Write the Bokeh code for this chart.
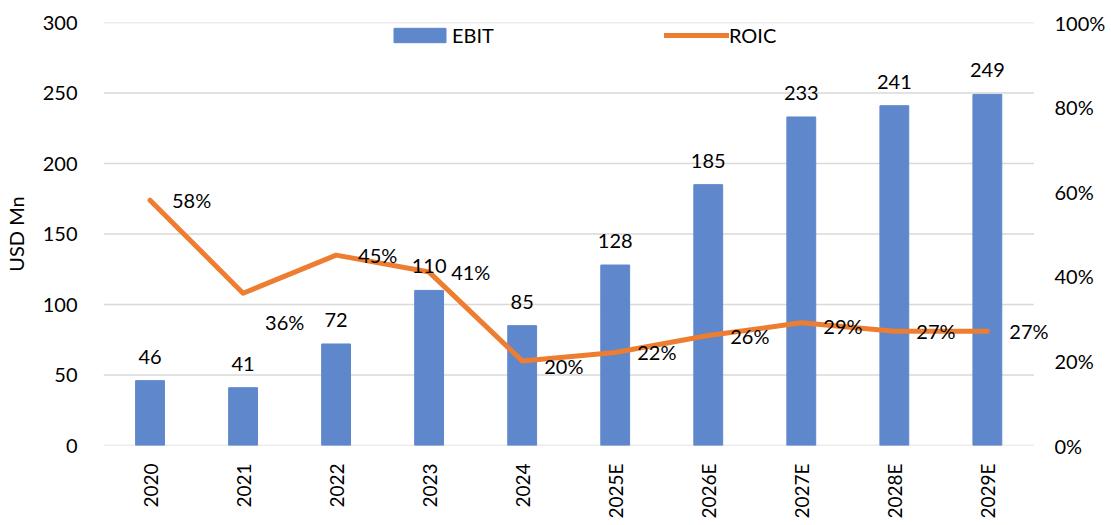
import math
from bokeh.plotting import figure
from bokeh.models import (Range1d, LinearAxis, ColumnDataSource, Legend, LegendItem,
                          PrintfTickFormatter, FixedTicker, Label)
from bokeh.core.properties import value
from bokeh.embed import file_html
from bokeh.resources import INLINE

years = ["2020", "2021", "2022", "2023", "2024", "2025E", "2026E", "2027E", "2028E", "2029E"]
ebit = [46, 41, 72, 110, 85, 128, 185, 233, 241, 249]
roic = [58, 36, 45, 41, 20, 22, 26, 29, 27, 27]
left_ticks = [0, 50, 100, 150, 200, 250, 300]
right_ticks = [0, 20, 40, 60, 80, 100]

# label vertical nudges (screen px, up positive) for the ROIC data labels
roic_label_dy = [0, -29, 0, 0, -5, 0, 0, -3, 0, 0]

FONT = "Lato"
BAR = "#5f87cc"
ORANGE = "#ED7D31"
GRID = "#d9d9d9"

n = len(years)
xpos = list(range(n))
EXTRA = 0.2  # extra room right of the category area so the last label is not clipped

src = ColumnDataSource(dict(
    x=xpos, year=years, ebit=ebit, roic=roic,
    ebit_lbl=[str(v) for v in ebit],
))

p = figure(x_range=Range1d(-0.5, n - 0.5 + EXTRA), y_range=Range1d(0, 300),
           frame_width=round(930 * (n + EXTRA) / n), frame_height=423,
           output_backend="svg", toolbar_location=None,
           min_border_left=92, min_border_right=20, min_border_top=22, min_border_bottom=5)
p.extra_y_ranges = {"pct": Range1d(0, 100)}
p.outline_line_color = None
p.background_fill_color = "white"

# horizontal gridlines limited to the category area
p.xgrid.grid_line_color = None
p.ygrid.grid_line_color = None
p.segment(x0=[-0.5] * len(left_ticks), x1=[n - 0.5] * len(left_ticks),
          y0=left_ticks, y1=left_ticks, line_color=GRID, line_width=1.5)

bars = p.vbar(x="x", top="ebit", width=0.31, source=src, fill_color=BAR, line_color=BAR)
line = p.line(x="x", y="roic", source=src, y_range_name="pct", line_width=5,
              line_color=ORANGE, line_join="round", line_cap="round")

p.text(x="x", y="ebit", text="ebit_lbl", source=src, text_align="center",
       text_baseline="bottom", y_offset=-17, text_font=value(FONT), text_font_size="20px",
       text_color="black")

for xi, r, dy in zip(xpos, roic, roic_label_dy):
    p.add_layout(Label(x=xi, y=r, text=f"{r}%", y_range_name="pct",
                       text_align="left", text_baseline="middle", x_offset=22, y_offset=dy,
                       text_font=FONT, text_font_size="20px", text_color="black"))

# left axis
ya = p.yaxis[0]
ya.ticker = FixedTicker(ticks=left_ticks)
ya.axis_label = "USD Mn"
ya.axis_label_text_font = FONT
ya.axis_label_text_font_size = "20px"
ya.axis_label_text_font_style = "normal"
ya.axis_label_text_color = "black"
ya.axis_label_standoff = 12
ya.axis_line_color = None
ya.major_tick_line_color = None
ya.minor_tick_line_color = None
ya.major_label_text_font = FONT
ya.major_label_text_font_size = "20px"
ya.major_label_text_color = "black"
ya.major_label_standoff = 20

# right axis
ra = LinearAxis(y_range_name="pct", ticker=FixedTicker(ticks=right_ticks),
                formatter=PrintfTickFormatter(format="%d%%"))
ra.axis_line_color = None
ra.major_tick_line_color = None
ra.minor_tick_line_color = None
ra.major_tick_in = 0
ra.major_tick_out = 0
ra.major_label_text_font = FONT
ra.major_label_text_font_size = "20px"
ra.major_label_text_color = "black"
ra.major_label_standoff = 2
p.add_layout(ra, "right")

# bottom axis
xa = p.xaxis[0]
xa.ticker = FixedTicker(ticks=xpos)
xa.major_label_overrides = {i: y for i, y in zip(xpos, years)}
xa.axis_line_color = None
xa.major_tick_line_color = None
xa.minor_tick_line_color = None
xa.major_label_orientation = math.pi / 2
xa.major_label_text_font = FONT
xa.major_label_text_font_size = "19px"
xa.major_label_text_color = "black"
xa.major_label_standoff = 12

legend = Legend(items=[LegendItem(label="EBIT", renderers=[bars]),
                       LegendItem(label="ROIC", renderers=[line])],
                orientation="horizontal", location=(284, 398),
                border_line_alpha=0, background_fill_alpha=0,
                spacing=170, glyph_width=65, glyph_height=18,
                label_text_font=FONT, label_text_font_size="20px",
                label_text_color="black", padding=0, margin=0, label_standoff=0)
p.add_layout(legend)

open("out.html", "w").write(file_html(p, INLINE))
